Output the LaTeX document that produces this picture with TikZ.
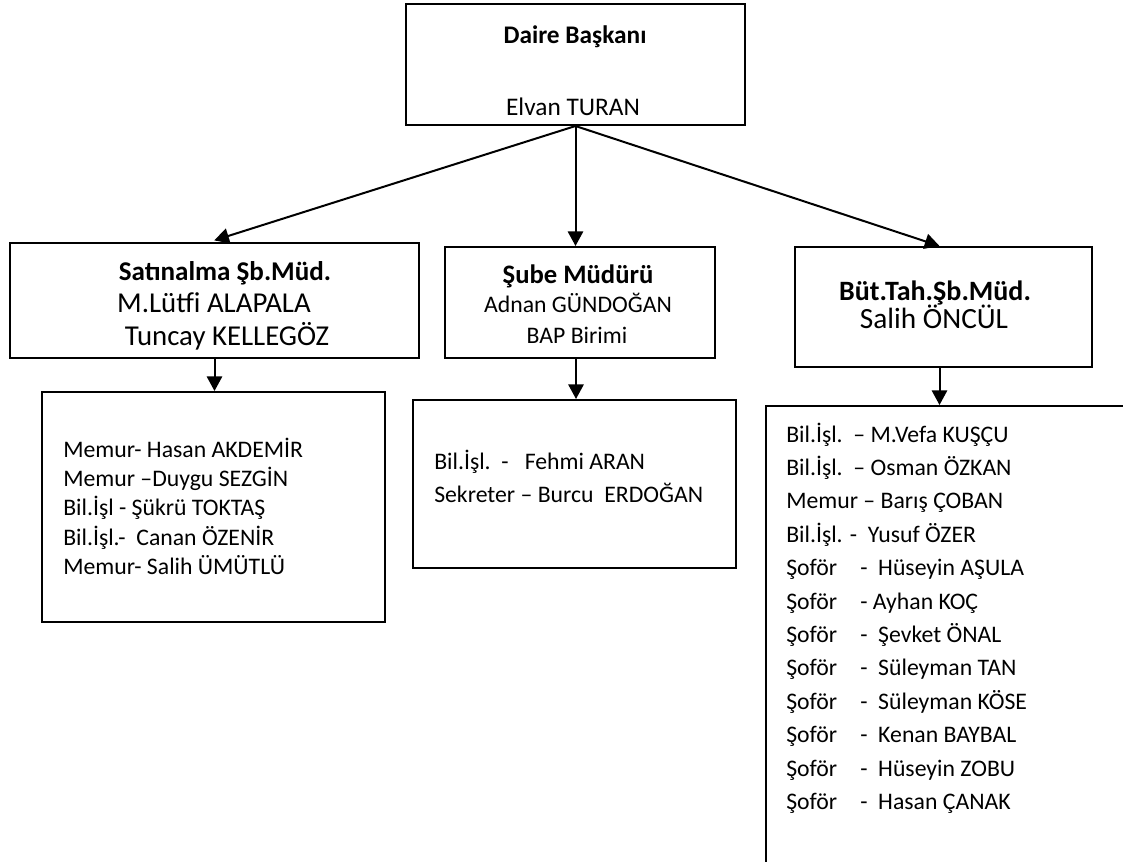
\documentclass[tikz,border=0pt]{standalone}
\usepackage{fontspec}
\setmainfont{Carlito}
\usetikzlibrary{arrows.meta,fit}
\newcommand\myfs[1]{\fontsize{#1}{#1}\selectfont}
\newcommand\sof{\makebox[55.5pt][l]{Şoför}-\ \ }
\begin{document}
\begin{tikzpicture}[x=0.75pt,y=-0.75pt,
  box/.style={draw,line width=1.5pt,inner sep=0pt},
  conn/.style={line width=1.5pt,-{Triangle[length=11pt,width=11.5pt]}},
  hd/.style={inner sep=0pt,anchor=base},
  li/.style={inner sep=0pt,anchor=base west,font=\myfs{17.8}}]
\useasboundingbox[fill=white] (0,0) rectangle (1123,861);

% boxes
\node[box,fit={(406,4) (745,125)}] (top) {};
\node[box,fit={(10,243) (419,358)}] (L1) {};
\node[box,fit={(445,247) (715,358)}] (M1) {};
\node[box,fit={(795,247) (1092,367)}] (R1) {};
\node[box,fit={(42,392) (385,622)}] (L2) {};
\node[box,fit={(413,400) (736,568)}] (M2) {};
\begin{scope}
  \clip (0,0) rectangle (1123,861);
  \node[box,fit={(766,406) (1150,880)}] (R2) {};
\end{scope}

% header texts
\node[hd,font=\myfs{19}\bfseries] (t1) at (575,43) {Daire Başkanı};
\node[hd,font=\myfs{19}] (t2) at (573,115) {Elvan TURAN};

\node[hd,font=\myfs{20.3}\bfseries] (l1) at (225,280) {Satınalma Şb.Müd.};
\node[hd,font=\myfs{21.6}] (l2) at (214,312) {M.Lütfi ALAPALA};
\node[hd,font=\myfs{21.6}] (l3) at (227,345) {Tuncay KELLEGÖZ};

\node[hd,font=\myfs{20}\bfseries] (m1) at (578,283) {Şube Müdürü};
\node[hd,font=\myfs{17.8}] (m2) at (578,312) {Adnan GÜNDOĞAN};
\node[hd,font=\myfs{17.8}] (m3) at (577,343) {BAP Birimi};

\node[hd,font=\myfs{21}\bfseries] (r1) at (935,300) {Büt.Tah.Şb.Müd.};
\node[hd,font=\myfs{22}] (r2) at (934,328) {Salih ÖNCÜL};

% lists
\node[li] (a1) at (63,457) {Memur- Hasan AKDEMİR};
\node[li] (a2) at (63,486) {Memur –Duygu SEZGİN};
\node[li] (a3) at (63,515) {Bil.İşl - Şükrü TOKTAŞ};
\node[li] (a4) at (63,545) {Bil.İşl.-\ \ Canan ÖZENİR};
\node[li] (a5) at (63,574) {Memur- Salih ÜMÜTLÜ};

\node[li] (b1) at (434,469) {Bil.İşl.\ \ -\ \ \ Fehmi ARAN};
\node[li] (b2) at (434,502) {Sekreter – Burcu\ \ ERDOĞAN};

\node[li] (c1) at (786,442.0) {Bil.İşl.\ \ – M.Vefa KUŞÇU};
\node[li] (c2) at (786,475.4) {Bil.İşl.\ \ – Osman ÖZKAN};
\node[li] (c3) at (786,508.8) {Memur – Barış ÇOBAN};
\node[li] (c4) at (786,542.2) {Bil.İşl. -\ \ Yusuf ÖZER};
\node[li] (c5) at (786,575.6) {\sof Hüseyin AŞULA};
\node[li] (c6) at (786,609.0) {\makebox[55.5pt][l]{Şoför}- Ayhan KOÇ};
\node[li] (c7) at (786,642.4) {\sof Şevket ÖNAL};
\node[li] (c8) at (786,675.8) {\sof Süleyman TAN};
\node[li] (c9) at (786,709.2) {\sof Süleyman KÖSE};
\node[li] (c10) at (786,742.6) {\sof Kenan BAYBAL};
\node[li] (c11) at (786,776.0) {\sof Hüseyin ZOBU};
\node[li] (c12) at (786,809.4) {\sof Hasan ÇANAK};

% connectors
\draw[conn,shorten >=4pt] (top.south) -- ([xshift=-4pt]L1.north);
\draw[conn] (top.south) -- (top.south |- M1.north);
\draw[conn] (top.south) -- ([xshift=-3pt]R1.north);
\draw[conn] (L1.south) -- (L1.south |- L2.north);
\draw[conn] ([xshift=-3pt]M1.south) -- ([xshift=-3pt]M1.south |- M2.north);
\draw[conn] ([xshift=-3pt]R1.south) -- ([xshift=-3pt]R1.south |- R2.north);
\end{tikzpicture}
\end{document}
